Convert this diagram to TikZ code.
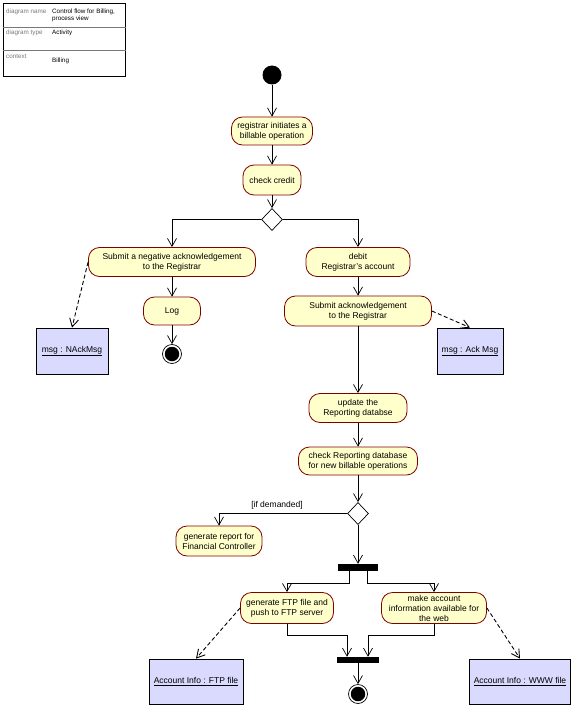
\documentclass[tikz,border=0pt]{standalone}
\usepackage{fontspec}
\setmainfont{Liberation Sans}
\usetikzlibrary{arrows.meta,shapes.geometric}
\definecolor{actfill}{RGB}{255,255,204}
\definecolor{actdraw}{RGB}{128,0,0}
\definecolor{objfill}{RGB}{218,218,255}
\definecolor{tblgray}{RGB}{120,120,120}
\begin{document}
\begin{tikzpicture}[x=1pt,y=-1pt,
  every node/.style={font=\fontsize{8.5}{10}\selectfont},
  act/.style={draw=actdraw, fill=actfill, rounded corners=11pt, line width=0.8pt, align=center, inner sep=0pt},
  obj/.style={draw, fill=objfill, line width=0.8pt, inner sep=0pt},
  arr/.style={-{Straight Barb[length=8pt,width=9pt]}, line width=0.7pt},
  dep/.style={arr, line width=0.9pt, dash pattern=on 4pt off 2.5pt},
  bar/.style={fill=black, draw=none, inner sep=0pt},
  dec/.style={diamond, draw, fill=white, inner sep=0pt, minimum width=21pt, minimum height=22pt, line width=0.7pt},
  startnode/.style={circle, fill=black, minimum size=19pt, inner sep=0pt},
  fin/.style={circle, draw, fill=white, line width=0.7pt, minimum size=19pt, inner sep=0pt},
  fincore/.style={circle, fill=black, minimum size=14.5pt, inner sep=0pt},
  tbl/.style={font=\fontsize{6.3}{7.3}\selectfont, anchor=west, align=left, inner sep=0pt},
  tblk/.style={tbl, text=tblgray},
]
\useasboundingbox (0,0) rectangle (573,706);

% header table
\node[draw, line width=0.7pt, minimum width=122pt, minimum height=73pt, inner sep=0pt, anchor=north west] (table) at (3,3) {};
\draw[line width=0.5pt, draw=tblgray] (table.west |- 0,27) -- (table.east |- 0,27);
\draw[line width=0.5pt, draw=tblgray] (table.west |- 0,50) -- (table.east |- 0,50);
\node[tblk] (k1) at (6,11.7) {diagram name};
\node[tbl] (v1) at (52,15.3) {Control flow for Billing,\\process view};
\node[tblk] (k2) at (6,33) {diagram type};
\node[tbl] (v2) at (52,33) {Activity};
\node[tblk] (k3) at (6,56) {context};
\node[tbl] (v3) at (52,61) {Billing};

% nodes
\node[startnode] (init) at (272,75) {};
\node[act, minimum width=81pt, minimum height=28pt] (reg) at (272,131) {registrar initiates a\\billable operation};
\node[act, minimum width=58pt, minimum height=30pt] (chk) at (272,180) {check credit};
\node[dec] (dia1) at (272,219.5) {};

\node[act, minimum width=167pt, minimum height=29pt] (snack) at (172,262) {Submit a negative acknowledgement\\to the  Registrar};
\node[act, minimum width=57pt, minimum height=28pt] (log) at (172,311) {Log};
\node[fin] (fin1) at (172,354) {};
\node[fincore] (fin1c) at (fin1.center) {};
\node[obj, minimum width=72pt, minimum height=46pt] (nackmsg) at (72,351) {\underline{msg : NAckMsg}};

\node[act, minimum width=104pt, minimum height=29pt] (debit) at (358,262) {debit\\Registrar's account};
\node[act, minimum width=147pt, minimum height=30pt] (sack) at (358,311) {Submit acknowledgement\\to the Registrar};
\node[obj, minimum width=66pt, minimum height=46pt] (ackmsg) at (470,351) {\underline{msg : Ack Msg}};

\node[act, minimum width=98pt, minimum height=29pt] (upd) at (358,408) {update the\\Reporting databse};
\node[act, minimum width=119pt, minimum height=28pt] (chkdb) at (358,461) {check Reporting database\\for new billable operations};
\node[dec] (dia2) at (358,513.5) {};
\node[act, minimum width=86pt, minimum height=30pt] (genrep) at (219,541) {generate report for\\Financial Controller};
\node[inner sep=0pt] (lbl) at (277,505) {[if demanded]};

\node[bar, minimum width=40pt, minimum height=7pt] (fork) at (358,567.5) {};
\node[act, minimum width=93pt, minimum height=31pt] (ftp) at (287,608) {generate FTP file and\\push to FTP server};
\node[act, minimum width=105pt, minimum height=31pt] (web) at (434,608) {make account\\information available for\\the web};
\node[bar, minimum width=42pt, minimum height=6pt] (join) at (358,660) {};
\node[fin] (fin2) at (358,694) {};
\node[fincore] (fin2c) at (fin2.center) {};

\node[obj, minimum width=94pt, minimum height=45pt] (ftpfile) at (196,681.5) {\underline{Account Info : FTP file}};
\node[obj, minimum width=101pt, minimum height=45pt] (wwwfile) at (520,681.5) {\underline{Account Info : WWW file}};

% control flow
\draw[arr] (init) -- (reg);
\draw[arr] (reg) -- (chk);
\draw[arr] (chk) -- (dia1);
\draw[arr] (dia1.west) -| (snack.north);
\draw[arr] (dia1.east) -| (debit.north);
\draw[arr] (snack) -- (log);
\draw[arr] (log) -- (fin1);
\draw[arr] (debit) -- (sack);
\draw[arr] (sack) -- (upd);
\draw[arr] (upd) -- (chkdb);
\draw[arr] (chkdb) -- (dia2);
\draw[arr] (dia2.west) -| (genrep.north);
\draw[arr] (dia2) -- (fork);
\draw[arr] ([xshift=-9pt]fork.south) -- ++(0,12) -| (ftp.north);
\draw[arr] ([xshift=9pt]fork.south) -- ++(0,12) -| (web.north);
\draw[arr] (ftp.south) -- ++(0,11) -| ([xshift=-11pt]join.north);
\draw[arr] (web.south) -- ++(0,11) -| ([xshift=10pt]join.north);
\draw[arr] (join) -- (fin2);

% object flows
\draw[dep] (snack.west) -- (nackmsg.north);
\draw[dep] (sack.east) -- (ackmsg.north);
\draw[dep] (ftp.west) -- (ftpfile.north);
\draw[dep] (web.east) -- (wwwfile.north);
\end{tikzpicture}
\end{document}
